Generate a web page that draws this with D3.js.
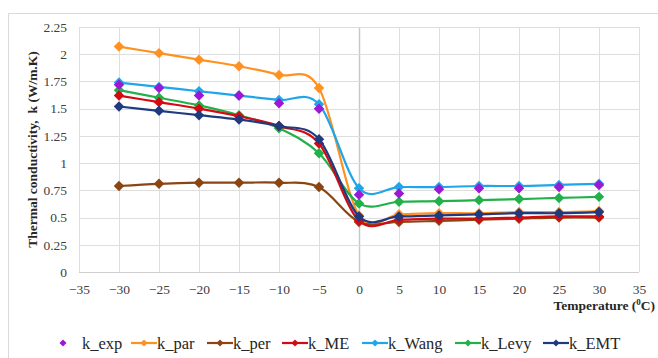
<!DOCTYPE html>
<html>
<head>
<meta charset="utf-8">
<script src="https://cdn.jsdelivr.net/npm/d3@7"></script>
<style>
  body { margin: 0; background: #fff; }
  svg { display: block; }
  svg text { font-family: "Liberation Serif", Tinos, "Times New Roman", "DejaVu Serif", serif; }
</style>
</head>
<body>
<script>
// temperatures (x) shared by every series
var temps = [-30, -25, -20, -15, -10, -5, 0, 5, 10, 15, 20, 25, 30];

// values
var kExp  = [1.72, 1.69, 1.62, 1.62, 1.55, 1.50, 0.71, 0.72, 0.76, 0.77, 0.77, 0.78, 0.80];
var kPar  = [2.07, 2.01, 1.95, 1.89, 1.81, 1.69, 0.52, 0.53, 0.54, 0.54, 0.55, 0.55, 0.56];
var kPer  = [0.79, 0.81, 0.82, 0.82, 0.82, 0.78, 0.46, 0.46, 0.47, 0.48, 0.49, 0.50, 0.50];
var kME   = [1.62, 1.56, 1.50, 1.43, 1.34, 1.18, 0.47, 0.48, 0.49, 0.49, 0.50, 0.51, 0.51];
var kWang = [1.74, 1.70, 1.66, 1.62, 1.58, 1.54, 0.77, 0.78, 0.78, 0.79, 0.79, 0.80, 0.81];
var kLevy = [1.67, 1.60, 1.53, 1.44, 1.32, 1.09, 0.63, 0.645, 0.65, 0.66, 0.67, 0.68, 0.69];
var kEMT  = [1.52, 1.48, 1.44, 1.40, 1.34, 1.22, 0.51, 0.51, 0.52, 0.53, 0.54, 0.54, 0.55];

var xTicks = [-35, -30, -25, -20, -15, -10, -5, 0, 5, 10, 15, 20, 25, 30, 35];
var yTicks = [0, 0.25, 0.5, 0.75, 1, 1.25, 1.5, 1.75, 2, 2.25];

// series list: name, values, colour, drawn with a line or not
var seriesNames  = ["k_exp", "k_par", "k_per", "k_ME", "k_Wang", "k_Levy", "k_EMT"];
var seriesValues = [kExp, kPar, kPer, kME, kWang, kLevy, kEMT];
var seriesColors = ["#9b19d6", "#ff9121", "#8b4513", "#d40a12", "#1fa6ea", "#22b04a", "#1f3a7e"];
var seriesLines  = [false, true, true, true, true, true, true];
// drawing order (back to front)
var drawOrder = [1, 4, 5, 2, 3, 6, 0];

var width = 658, height = 358;
var margin = { left: 79, right: 18, top: 27, bottom: 86 };

var svg = d3.select("body").append("svg")
  .attr("width", width)
  .attr("height", height);

// outer chart frame
svg.append("path")
  .attr("d", "M8.5," + height + "V13.5H" + width)
  .attr("fill", "none")
  .attr("stroke", "#d9d9d9");

var x = d3.scaleLinear().domain([-35, 35]).range([margin.left, width - margin.right - 1]);
var y = d3.scaleLinear().domain([0, 2.25]).range([height - margin.bottom, margin.top]);

// grid
var grid = svg.append("g");
grid.selectAll("line.v")
  .data(xTicks)
  .enter().append("line")
  .attr("x1", function(d) { return Math.round(x(d)) + 0.5; })
  .attr("x2", function(d) { return Math.round(x(d)) + 0.5; })
  .attr("y1", y(0))
  .attr("y2", y(2.25))
  .attr("stroke", function(d) { return d === 0 ? "#c8c8c8" : "#dedede"; })
  .attr("stroke-width", function(d) { return d === 0 ? 1.5 : 1; });
grid.selectAll("line.h")
  .data(yTicks)
  .enter().append("line")
  .attr("x1", x(-35))
  .attr("x2", x(35))
  .attr("y1", function(d) { return Math.round(y(d)) + 0.5; })
  .attr("y2", function(d) { return Math.round(y(d)) + 0.5; })
  .attr("stroke", function(d) { return d === 0 ? "#cfcfcf" : "#dedede"; });

// tick labels
var xAxis = d3.axisBottom(x).tickValues(xTicks).tickSize(0).tickPadding(12).tickFormat(d3.format("d"));
var xg = svg.append("g").attr("transform", "translate(0," + y(0) + ")").call(xAxis);
var yAxis = d3.axisLeft(y).tickValues(yTicks).tickSize(0).tickPadding(12).tickFormat(function(d) { return String(d); });
var yg = svg.append("g").attr("transform", "translate(" + x(-35) + ",0)").call(yAxis);
[xg, yg].forEach(function(g) {
  g.attr("font-family", null);
  g.select(".domain").remove();
  g.selectAll("text")
    .style("font-size", "13.5px")
    .attr("fill", "#404040");
});

// series, smoothed like the spreadsheet's "smoothed line"
var line = d3.line()
  .x(function(d) { return x(d[0]); })
  .y(function(d) { return y(d[1]); })
  .curve(d3.curveCardinal.tension(0));

var diamond = d3.symbol().type(d3.symbolDiamond2);

drawOrder.forEach(function(i) {
  var pts = temps.map(function(t, j) { return [t, seriesValues[i][j]]; });
  var g = svg.append("g");
  if (seriesLines[i]) {
    g.append("path")
      .datum(pts)
      .attr("d", line)
      .attr("fill", "none")
      .attr("stroke", seriesColors[i])
      .attr("stroke-width", 2.2);
  }
  g.selectAll("path.m")
    .data(pts)
    .enter().append("path")
    .attr("d", diamond.size(70))
    .attr("transform", function(d) { return "translate(" + x(d[0]) + "," + y(d[1]) + ")"; })
    .attr("fill", seriesColors[i]);
});

// axis titles
svg.append("text")
  .attr("transform", "translate(37," + (y(0) + y(2.25)) / 2 + ") rotate(-90)")
  .attr("text-anchor", "middle")
  .style("font-size", "13.5px")
  .style("font-weight", "bold")
  .attr("fill", "#262626")
  .text("Thermal conductivity,\u00a0 k (W/m.K)");

var xt = svg.append("text")
  .attr("x", 655)
  .attr("y", 310)
  .attr("text-anchor", "end")
  .style("font-size", "13.5px")
  .style("font-weight", "bold")
  .attr("fill", "#262626");
xt.append("tspan").text("Temperature (");
xt.append("tspan").attr("dy", -5).style("font-size", "9px").text("0");
xt.append("tspan").attr("dy", 5).text("C)");

// legend
var legendX = [55, 131, 207, 282, 362, 455, 543];
var legendY = 343;
var lg = svg.append("g");
seriesNames.forEach(function(name, i) {
  var g = lg.append("g").attr("transform", "translate(" + legendX[i] + "," + legendY + ")");
  var textX;
  if (seriesLines[i]) {
    g.append("line")
      .attr("x1", 0).attr("x2", 26)
      .attr("stroke", seriesColors[i])
      .attr("stroke-width", 2.2);
    g.append("path")
      .attr("d", diamond.size(32))
      .attr("transform", "translate(13,0)")
      .attr("fill", seriesColors[i]);
    textX = 26;
  } else {
    g.append("path")
      .attr("d", diamond.size(32))
      .attr("transform", "translate(8,0)")
      .attr("fill", seriesColors[i]);
    textX = 27;
  }
  g.append("text")
    .attr("x", textX)
    .attr("dy", "0.35em")
    .style("font-size", "16.5px")
    .attr("fill", "#262626")
    .text(name);
});
</script>
</body>
</html>
